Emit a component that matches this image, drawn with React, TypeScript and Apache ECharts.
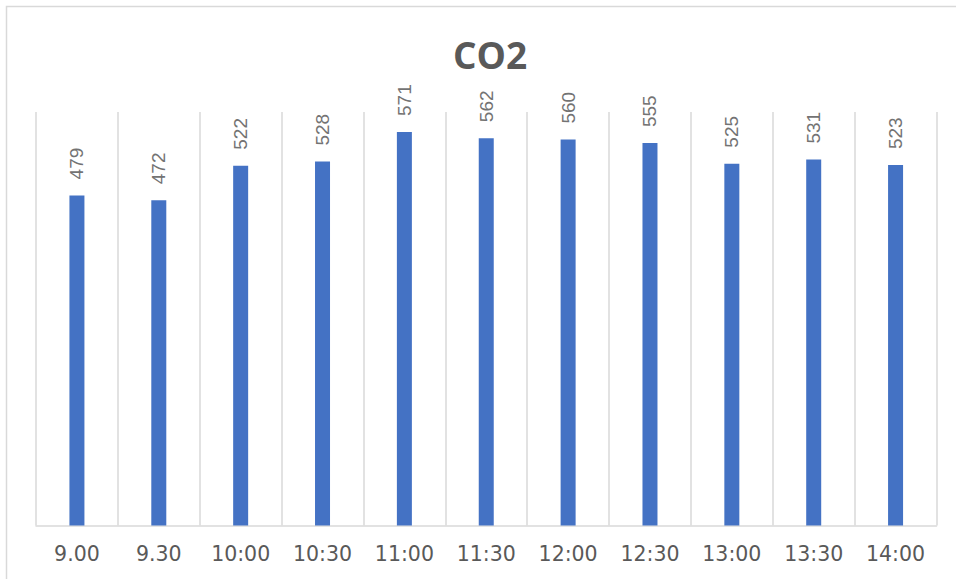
import React, { useEffect, useRef } from "react";
import * as echarts from "echarts";

const categories = ["9.00", "9.30", "10:00", "10:30", "11:00", "11:30", "12:00", "12:30", "13:00", "13:30", "14:00"];
const co2Values = [479, 472, 522, 528, 571, 562, 560, 555, 525, 531, 523];
const chartTitle = "CO2";

export default function App() {
  const ref = useRef<HTMLDivElement>(null);
  useEffect(() => {
    if (!ref.current) return;
    const chart = echarts.init(ref.current, null, { renderer: "svg" });
    chart.setOption({
      animation: false,
      backgroundColor: "#ffffff",
      graphic: [
        {
          type: "rect",
          shape: { x: 6.5, y: 6.5, width: 1200, height: 1200 },
          style: { fill: "none", stroke: "#d9d9d9", lineWidth: 1.5 },
          silent: true,
        },
        {
          type: "text",
          x: 490,
          y: 54,
          style: {
            text: chartTitle,
            fontFamily: "Open Sans",
            fontWeight: "bold",
            fontSize: 37,
            fill: "#595959",
            textAlign: "center",
            textVerticalAlign: "middle",
          },
        },
      ],
      grid: { left: 36, right: 19.5, top: 112, bottom: 53.5 },
      xAxis: {
        type: "category",
        data: categories,
        axisLine: { show: true, lineStyle: { color: "#d9d9d9", width: 1.5 } },
        axisTick: { show: false },
        axisLabel: {
          color: "#595959",
          fontFamily: "DejaVu Sans",
          fontSize: 20.5,
          margin: 18,
        },
        splitLine: { show: true, lineStyle: { color: "#d9d9d9", width: 1.5 } },
      },
      yAxis: {
        type: "value",
        min: 0,
        max: 600,
        show: false,
        splitLine: { show: false },
      },
      series: [
        {
          type: "bar",
          data: co2Values,
          barWidth: 15,
          itemStyle: { color: "#4472C4" },
          label: {
            show: true,
            position: "top",
            rotate: 90,
            align: "left",
            verticalAlign: "middle",
            distance: 16,
            color: "#737373",
            fontFamily: "Liberation Sans",
            fontSize: 19,
          },
        },
      ],
    });
    return () => chart.dispose();
  }, []);
  return (
    <div
      ref={ref}
      style={{ position: "fixed", left: 0, top: 0, width: 956, height: 579 }}
    />
  );
}
